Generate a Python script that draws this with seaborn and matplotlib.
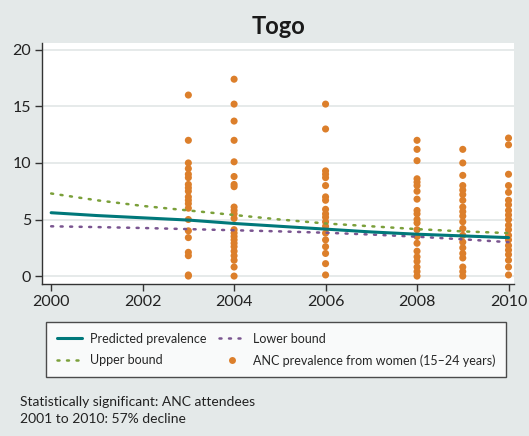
import numpy as np
import pandas as pd
import seaborn as sns
import matplotlib.pyplot as plt
from matplotlib.lines import Line2D

# model curves
years = [2000, 2001, 2002, 2003, 2004, 2005, 2006, 2007, 2008, 2009, 2010]
predicted = [5.6, 5.35, 5.15, 4.95, 4.65, 4.4, 4.15, 3.9, 3.7, 3.55, 3.4]
upper = [7.3, 6.7, 6.2, 5.8, 5.4, 5.0, 4.65, 4.4, 4.15, 3.95, 3.8]
lower = [4.4, 4.33, 4.25, 4.15, 4.05, 3.95, 3.83, 3.67, 3.48, 3.25, 3.0]

# ANC site prevalence points
anc_2003 = [16.0, 12.0, 10.0, 9.5, 9.0, 8.7, 8.1, 7.8, 7.5, 7.0, 6.7, 6.4, 6.0, 5.0, 4.0, 3.4, 2.1, 1.8, 0.1, 0.0]
anc_2004 = [17.4, 15.2, 13.7, 12.0, 10.1, 8.8, 8.1, 7.9, 6.1, 5.8, 5.5, 5.1, 4.1, 3.8, 3.5, 3.2, 2.9, 2.6, 2.2, 1.8, 1.4, 0.8, 0.0]
anc_2006 = [15.2, 13.0, 9.3, 9.0, 8.7, 8.0, 7.0, 6.7, 5.9, 5.5, 5.2, 4.8, 4.4, 3.8, 3.2, 2.6, 2.0, 1.1, 0.1]
anc_2008 = [12.0, 11.2, 10.2, 8.6, 8.3, 8.0, 7.5, 6.8, 5.8, 5.5, 5.0, 4.7, 4.1, 3.5, 2.9, 2.2, 1.7, 1.3, 0.8, 0.4, 0.0]
anc_2009 = [11.2, 10.0, 8.9, 8.0, 7.6, 7.2, 6.7, 6.1, 5.7, 5.3, 4.8, 4.2, 3.6, 3.0, 2.5, 2.0, 1.6, 0.8, 0.4, 0.0]
anc_2010 = [12.2, 11.6, 9.0, 8.0, 7.4, 6.7, 6.3, 5.8, 5.4, 5.0, 4.5, 4.1, 3.6, 3.2, 2.7, 2.3, 1.9, 1.4, 0.8, 0.1]

xticks = [2000, 2002, 2004, 2006, 2008, 2010]
yticks = [0, 5, 10, 15, 20]

teal = '#00787a'
green = '#7ba03a'
purple = '#7a5590'
orange = '#dc7f2b'
bg = '#e4e9e9'

curves = pd.DataFrame({'year': years, 'predicted': predicted, 'upper': upper, 'lower': lower})
pts = pd.concat([pd.DataFrame({'year': y, 'prev': v}) for y, v in
                 [(2003, anc_2003), (2004, anc_2004), (2006, anc_2006),
                  (2008, anc_2008), (2009, anc_2009), (2010, anc_2010)]])

sns.set_style('white')
plt.rcParams['font.family'] = ['Lato', 'DejaVu Sans']

fig = plt.figure(figsize=(5.29, 4.36), dpi=100, facecolor=bg)
ax = fig.add_axes([42/529, 1-284/436, 472/529, 241/436])
ax.set_facecolor('white')

ax.yaxis.grid(True, color='#e2e6e6', lw=1.2)
ax.set_axisbelow(True)

sns.scatterplot(data=pts, x='year', y='prev', ax=ax, color=orange, s=26,
                edgecolor='none', zorder=3)
sns.lineplot(data=curves, x='year', y='upper', ax=ax, color=green, lw=1.8,
             linestyle=(0, (0.8, 3)), dash_capstyle='round', zorder=4)
sns.lineplot(data=curves, x='year', y='lower', ax=ax, color=purple, lw=1.8,
             linestyle=(0, (0.8, 3)), dash_capstyle='round', zorder=4)
sns.lineplot(data=curves, x='year', y='predicted', ax=ax, color=teal, lw=2.2, zorder=5)

ax.set_xlim(1999.8, 2010.12)
ax.set_ylim(-0.7, 20.6)
ax.set_xticks(xticks)
ax.set_yticks(yticks)
ax.set_xlabel('')
ax.set_ylabel('')
ax.tick_params(axis='both', which='both', direction='out', length=5, width=1,
               color='#333333', labelsize=11.5, labelcolor='#222222', pad=3,
               left=True, bottom=True)
for s in ['top', 'right']:
    ax.spines[s].set_visible(False)
for s in ['left', 'bottom']:
    ax.spines[s].set_color('#333333')
    ax.spines[s].set_linewidth(1)

fig.text(278/529, 1-27/436, 'Togo', ha='center', va='center',
         fontsize=17, fontweight='bold', color='#1a1a1a')

handles = [
    Line2D([], [], color=teal, lw=2.2),
    Line2D([], [], color=green, lw=1.8, linestyle=(0, (0.8, 3)), dash_capstyle='round'),
    Line2D([], [], color=purple, lw=1.8, linestyle=(0, (0.8, 3)), dash_capstyle='round'),
    Line2D([], [], color=orange, marker='o', ls='none', markersize=5, markeredgewidth=0),
]
labels = ['Predicted prevalence', 'Upper bound', 'Lower bound',
          'ANC prevalence from women (15\u201324 years)']
leg = fig.legend(handles, labels, ncol=2, loc='upper center',
                 bbox_to_anchor=(276/529, 1-322/436),
                 fontsize=9, frameon=True, fancybox=False, handlelength=2.0,
                 handletextpad=0.7, columnspacing=1.0,
                 labelspacing=0.75, borderpad=0.85, borderaxespad=0)
leg.get_frame().set_edgecolor('#222222')
leg.get_frame().set_linewidth(1)
leg.get_frame().set_facecolor('white')

fig.text(20/529, 1-402/436, 'Statistically significant: ANC attendees',
         ha='left', va='center', fontsize=10, color='#222222')
fig.text(20/529, 1-419/436, '2001 to 2010: 57% decline',
         ha='left', va='center', fontsize=10, color='#222222')

fig.savefig('out.png', dpi=100, facecolor=bg)
